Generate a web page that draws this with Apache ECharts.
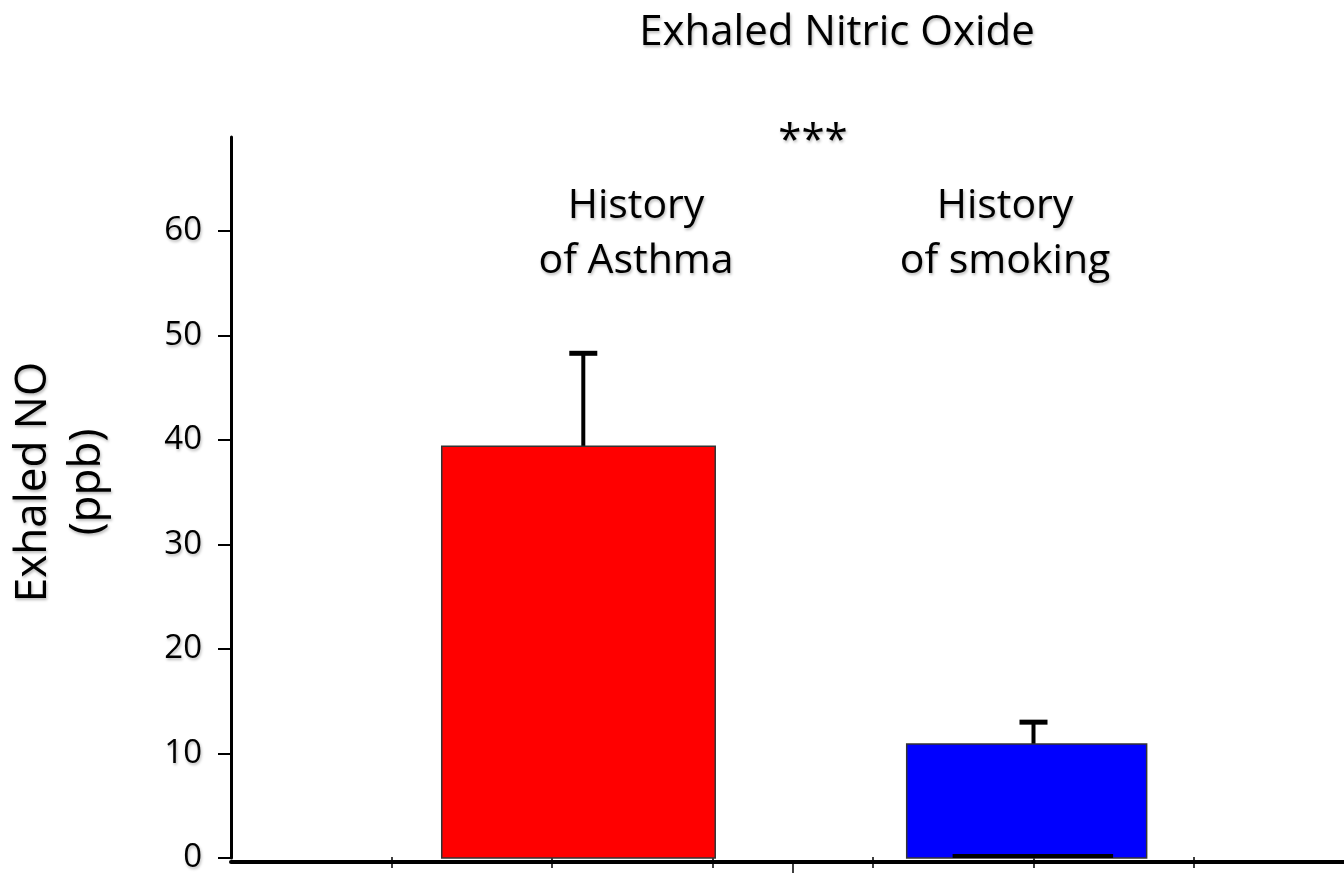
<!DOCTYPE html>
<html>
<head>
<meta charset="utf-8">
<title>Exhaled Nitric Oxide</title>
<script src="https://cdn.jsdelivr.net/npm/echarts@6/dist/echarts.min.js"></script>
<style>
  html, body { margin: 0; padding: 0; background: #fff; }
  #chart { width: 1344px; height: 873px; }
</style>
</head>
<body>
<div id="chart"></div>
<script>
// data
const groups = ['History\nof Asthma', 'History\nof smoking']
const meanNO = [39.4, 10.9]
const errNO = [8.9, 2.1]
const yTicks = [0, 10, 20, 30, 40, 50, 60]

// where each bar sits along the (unlabelled) x scale, in x-axis units
const barLayout = [
  { left: 1.313, right: 3.017, err: 2.195, color: '#ff0000', label: [636, 234] },
  { left: 4.21, right: 5.705, err: 5.0, color: '#0000ff', label: [1005, 234], base: [4.496, 5.496] },
]

const font = '"Open Sans", "Noto Sans", sans-serif'
const shadow = {
  textShadowColor: 'rgba(0,0,0,0.28)',
  textShadowBlur: 3,
  textShadowOffsetX: 1,
  textShadowOffsetY: 2,
}

const chart = echarts.init(document.getElementById('chart'))

function renderBar(params, api) {
  const i = api.value(0)
  const lay = barLayout[i]
  const mean = api.value(1)
  const err = api.value(2)
  const tl = api.coord([lay.left, mean])
  const br = api.coord([lay.right, 0])
  const stemTop = api.coord([lay.err, mean + err])
  const stemBot = api.coord([lay.err, mean])
  const children = [
    {
      type: 'line',
      shape: { x1: stemTop[0], y1: stemTop[1], x2: stemBot[0], y2: stemBot[1] },
      style: { stroke: '#000', lineWidth: 4 },
    },
    {
      type: 'line',
      shape: { x1: stemTop[0] - 14, y1: stemTop[1], x2: stemTop[0] + 14, y2: stemTop[1] },
      style: { stroke: '#000', lineWidth: 5 },
    },
    {
      type: 'rect',
      shape: { x: tl[0], y: tl[1], width: br[0] - tl[0], height: br[1] - tl[1] },
      style: { fill: lay.color, stroke: '#333', lineWidth: 1.5 },
    },
  ]
  if (lay.base) {
    const a = api.coord([lay.base[0], 0])
    const b = api.coord([lay.base[1], 0])
    children.push({
      type: 'line',
      shape: { x1: a[0], y1: a[1] - 2, x2: b[0], y2: b[1] - 2 },
      style: { stroke: '#000', lineWidth: 4 },
    })
  }
  return { type: 'group', children }
}

const xBase = {
  type: 'value', gridIndex: 0, min: 0, max: 7, interval: 1,
  position: 'bottom', offset: 4, splitLine: { show: false }, axisLabel: { show: false },
}

const option = {
  backgroundColor: '#fff',
  animation: false,
  title: {
    text: 'Exhaled Nitric Oxide',
    left: 832,
    top: 7,
    textAlign: 'center',
    textStyle: { fontFamily: font, fontSize: 42, fontWeight: 'normal', color: '#000', ...shadow },
  },
  grid: { left: 231, width: 1123.5, top: 137, bottom: 15, outerBoundsMode: 'none', containLabel: false },
  xAxis: [
    {
      ...xBase,
      axisLine: { show: true, onZero: false, lineStyle: { color: '#000', width: 4 } },
      axisTick: { show: true, length: 6, customValues: [1, 2, 3, 4, 5, 6], lineStyle: { color: '#000', width: 1.5 } },
    },
    {
      ...xBase,
      axisLine: { show: false, onZero: false },
      axisTick: { show: true, inside: true, length: 5, customValues: [1, 2, 3, 4, 5, 6], lineStyle: { color: '#000', width: 1.5 } },
    },
    {
      ...xBase,
      axisLine: { show: false, onZero: false },
      axisTick: { show: true, length: 16, customValues: [3.5], lineStyle: { color: '#000', width: 1.5 } },
    },
  ],
  yAxis: {
    type: 'value',
    min: 0,
    max: 69,
    interval: 10,
    splitLine: { show: false },
    axisLine: { show: true, lineStyle: { color: '#000', width: 3 } },
    axisTick: { show: true, length: 13, customValues: yTicks, lineStyle: { color: '#000', width: 2 } },
    axisLabel: { customValues: yTicks, margin: 29, fontFamily: font, fontSize: 33, color: '#000', ...shadow },
  },
  graphic: [
    {
      type: 'text',
      x: 60,
      y: 482,
      rotation: Math.PI / 2,
      style: {
        text: 'Exhaled NO\n(ppb)',
        font: '44px ' + font,
        fill: '#000',
        align: 'center',
        verticalAlign: 'middle',
        lineHeight: 54,
        ...shadow,
      },
    },
    {
      type: 'text',
      x: 813,
      y: 142,
      style: { text: '***', font: '42px ' + font, fill: '#000', align: 'center', verticalAlign: 'middle', ...shadow },
    },
    ...groups.map((g, i) => ({
      type: 'text',
      x: barLayout[i].label[0],
      y: barLayout[i].label[1],
      style: { text: g, font: '41px ' + font, fill: '#000', align: 'center', verticalAlign: 'middle', lineHeight: 55, ...shadow },
    })),
  ],
  series: [
    {
      type: 'custom',
      xAxisIndex: 0,
      renderItem: renderBar,
      encode: { x: -1, y: 1 },
      data: groups.map((g, i) => [i, meanNO[i], errNO[i]]),
      clip: false,
    },
  ],
}

chart.setOption(option)
</script>
</body>
</html>
